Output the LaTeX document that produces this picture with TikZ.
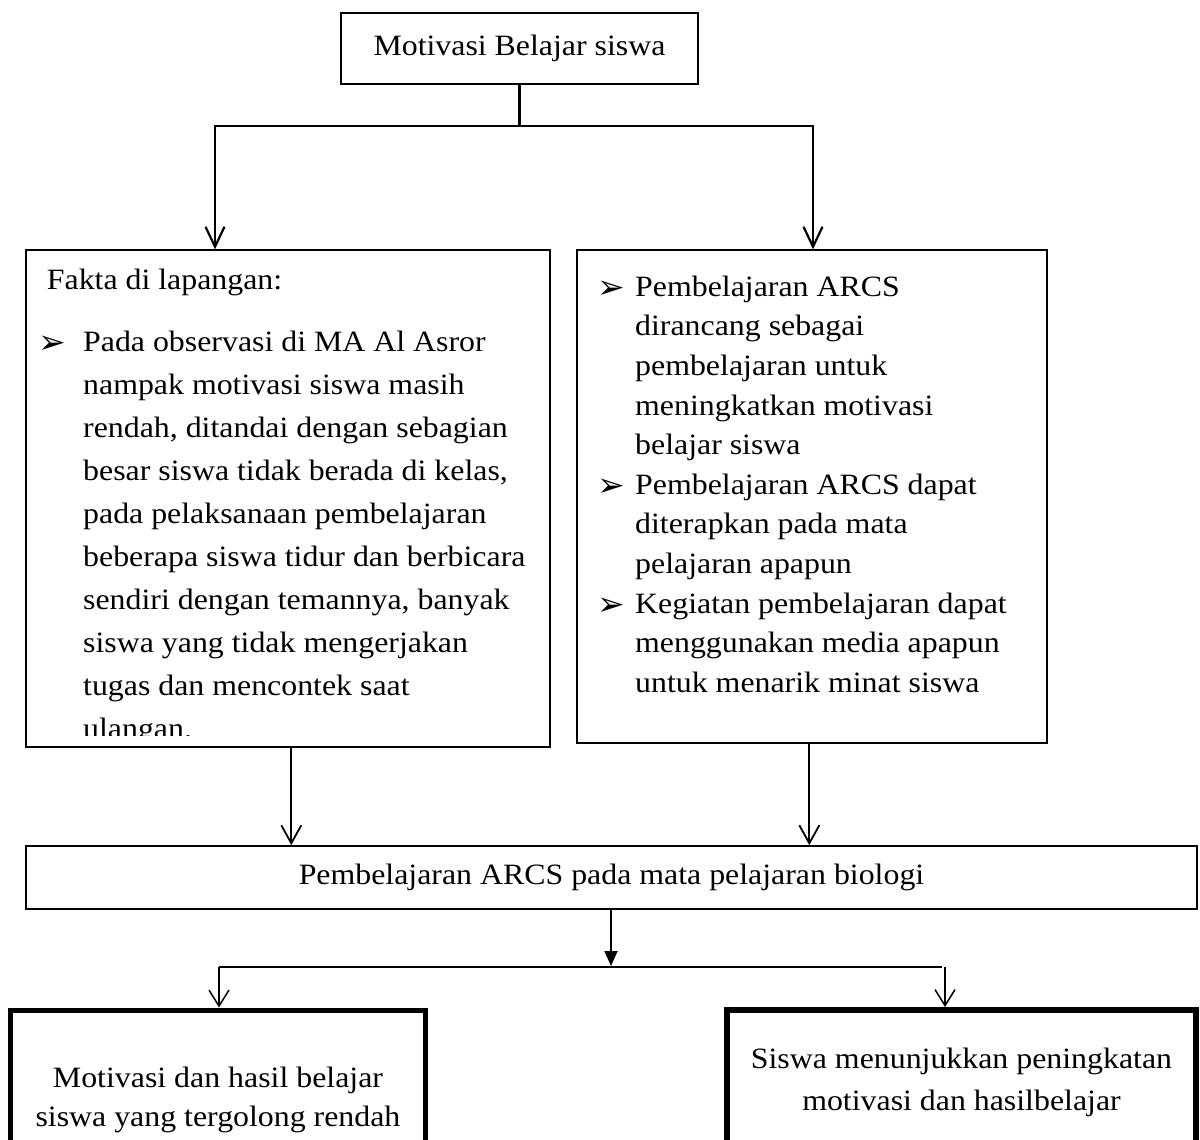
\documentclass[tikz,border=0pt]{standalone}
\usepackage{fontspec}
\setmainfont{Liberation Serif}[FakeStretch=1.08]
\newfontfamily\dejavu{DejaVu Sans}
\usetikzlibrary{arrows.meta}
\newcommand{\bulglyph}{\raisebox{-2pt}{\dejavu\fontsize{33}{33}\selectfont ➢}}
\newcommand{\bulL}{\makebox[44pt][l]{\hspace*{-1pt}\bulglyph}}
\newcommand{\bulR}{\makebox[37pt][l]{\hspace*{-1pt}\bulglyph}}
\begin{document}
\begin{tikzpicture}[x=1pt,y=-1pt,
  box/.style={draw=black, inner sep=0pt, align=center},
  txt/.style={inner sep=0pt, align=left, anchor=north west},
  conn/.style={line width=2.2pt},
  thinconn/.style={line width=1.8pt},
  bigV/.style={-{Straight Barb[length=20pt,width=19pt]}},
  midV/.style={-{Straight Barb[length=18pt,width=20pt]}},
  lowV/.style={-{Straight Barb[length=16pt,width=20pt]}},
  fillhead/.style={-{Triangle[length=15pt,width=13pt]}}
]
\useasboundingbox (0,0) rectangle (1200,1140);
\clip (0,0) rectangle (1200,1140);

% top box
\node[box, line width=2.7pt, minimum width=357pt, minimum height=71pt,
      font=\fontsize{29.5}{36}\selectfont] (top) at (519.5,48.5) {Motivasi Belajar siswa};

% left and right boxes
\node[box, line width=1.4pt, minimum width=524pt, minimum height=497pt] (L) at (288,498.5) {};
\node[box, line width=1.4pt, minimum width=470pt, minimum height=493pt] (R) at (812,496.5) {};

\begin{scope}
\clip (L.north west) rectangle ([yshift=12pt]L.south east);
\node[txt, font=\fontsize{29.5}{43}\selectfont] (Ltext) at (39,264) {%
\rule{0pt}{25pt}\hspace*{7.7pt}Fakta di lapangan:\\[19pt]
\bulL Pada observasi di MA Al Asror\\
\hspace*{44pt}nampak motivasi siswa masih\\
\hspace*{44pt}rendah, ditandai dengan sebagian\\
\hspace*{44pt}besar siswa tidak berada di kelas,\\
\hspace*{44pt}pada pelaksanaan pembelajaran\\
\hspace*{44pt}beberapa siswa tidur dan berbicara\\
\hspace*{44pt}sendiri dengan temannya, banyak\\
\hspace*{44pt}siswa yang tidak mengerjakan\\
\hspace*{44pt}tugas dan mencontek saat\\
\hspace*{44pt}ulangan.};
\end{scope}

\node[txt, font=\fontsize{29.5}{39.6}\selectfont] (Rtext) at (598,271) {%
\rule{0pt}{25pt}\bulR Pembelajaran ARCS\\
\hspace*{37pt}dirancang sebagai\\
\hspace*{37pt}pembelajaran untuk\\
\hspace*{37pt}meningkatkan motivasi\\
\hspace*{37pt}belajar siswa\\
\bulR Pembelajaran ARCS dapat\\
\hspace*{37pt}diterapkan pada mata\\
\hspace*{37pt}pelajaran apapun\\
\bulR Kegiatan pembelajaran dapat\\
\hspace*{37pt}menggunakan media apapun\\
\hspace*{37pt}untuk menarik minat siswa};

% middle box
\node[box, line width=1.8pt, minimum width=1171pt, minimum height=63pt,
      font=\fontsize{29.5}{36}\selectfont] (M) at (611.5,877.5) {Pembelajaran ARCS pada mata pelajaran biologi};

% bottom boxes
\node[box, line width=5pt, minimum width=415pt, minimum height=180pt,
      font=\fontsize{29.5}{38.5}\selectfont] (BL) at (218,1100) {Motivasi dan hasil belajar\\siswa yang tergolong rendah};
\node[box, line width=6pt, minimum width=469pt, minimum height=144pt,
      font=\fontsize{29.5}{42}\selectfont] (BR) at (961.5,1082) {Siswa menunjukkan peningkatan\\motivasi dan hasilbelajar};

% connectors top
\coordinate (jt) at (519.5,126);
\coordinate (jtl) at (215,126);
\coordinate (jtr) at (813,126);
\draw[conn] (top.south) -- (jt);
\draw[conn, line cap=rect] (jtl) -- (jtr);
\draw[conn, bigV] (jtl) -- (jtl |- L.north);
\draw[conn, bigV] (jtr) -- (jtr |- R.north);

% connectors into middle
\draw[thinconn, midV] ([xshift=266pt]L.south west) -- ([xshift=266pt]L.south west |- M.north);
\draw[thinconn, midV] ([xshift=233pt]R.south west) -- ([xshift=233pt]R.south west |- M.north);

% middle to bottom
\coordinate (jm) at (611,966);
\coordinate (jbl) at (219,967);
\coordinate (jbr) at (942,967);
\coordinate (jbr2) at (945,967);
\draw[thinconn, fillhead] (M.south -| jm) -- (jm);
\draw[line width=1.5pt] (jbl) -- (jbr);
\draw[line width=1.5pt, lowV] (jbl) -- (jbl |- BL.north);
\draw[line width=1.5pt, lowV] (jbr2) -- (jbr2 |- BR.north);
\end{tikzpicture}
\end{document}
